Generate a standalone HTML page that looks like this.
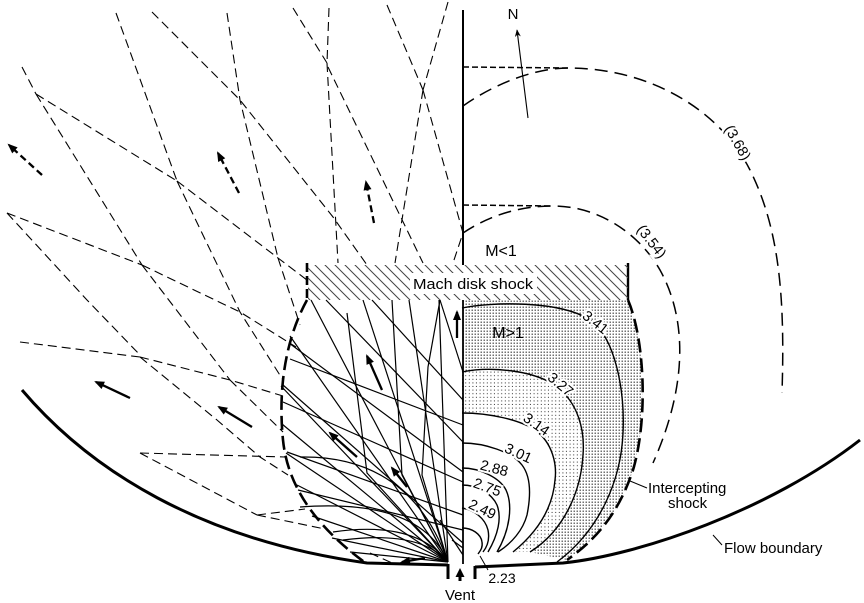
<!DOCTYPE html>
<html><head><meta charset="utf-8"><style>
html,body{margin:0;padding:0;background:#fff;}
svg{display:block;}
text{font-family:"Liberation Sans",Arial,sans-serif;fill:#000;}
</style></head><body>
<svg width="864" height="603" viewBox="0 0 864 603" xmlns="http://www.w3.org/2000/svg">
<defs>
<marker id="ah" viewBox="0 0 10 8" refX="8" refY="4" markerWidth="11" markerHeight="8" markerUnits="userSpaceOnUse" orient="auto"><path d="M0,0 L10,4 L0,8 z" fill="#000"/></marker>
<marker id="ahn" viewBox="0 0 10 8" refX="9" refY="4" markerWidth="10" markerHeight="6" markerUnits="userSpaceOnUse" orient="auto"><path d="M0,0 L10,4 L0,8 L3,4 z" fill="#000"/></marker>
<pattern id="hatch" width="10" height="10" patternUnits="userSpaceOnUse"><path d="M-2,-2 L12,12 M-2,8 L2,12 M8,-2 L12,2" stroke="#444" stroke-width="1"/></pattern>
<pattern id="dots" width="3" height="3" patternUnits="userSpaceOnUse"><rect x="0.6" y="0.6" width="1.2" height="1.2" fill="#222"/></pattern>
<pattern id="dots2" width="3.6" height="3.6" patternUnits="userSpaceOnUse"><rect x="0.8" y="0.8" width="1.0" height="1.0" fill="#333"/></pattern>
</defs>

<!-- stipple regions -->
<path d="M463,300 L628,300 C645,340 648,420 633,470 C618,515 595,540 567,560 L530,552 C565,530 581,490 583,455 C585,430 578,403 557,387 C535,370 490,366 462,372 Z" fill="url(#dots)"/>
<path d="M462,372 C490,366 535,370 557,387 C578,403 585,430 583,455 C581,490 565,530 530,552 L513,552 C540,530 553,505 555,480 C557,465 553,443 535,430 C520,420 490,413 462,413 Z" fill="url(#dots2)"/>

<!-- upper-left dashed characteristics -->
<g fill="none" stroke="#000" stroke-width="1.1" stroke-dasharray="9 5">
<path d="M22,67 L36,94"/>
<path d="M36,94 L177,181"/>
<path d="M36,94 L142,265"/>
<path d="M116,13 L177,181"/>
<path d="M152,12 L240,100 L333,217 L367,265"/>
<path d="M227,13 L240,100 L278,258"/>
<path d="M293,8 L327,63"/>
<path d="M329,8 L327,63"/>
<path d="M327,63 L338,263"/>
<path d="M328,67 L423,263"/>
<path d="M387,5 L423,90"/>
<path d="M448,2 L423,90"/>
<path d="M423,90 L395,263"/>
<path d="M423,90 L463,233 L453,263"/>
<path d="M177,181 L278,258 L307,280"/>
<path d="M278,258 L300,325"/>
<path d="M177,181 L240,312 L283,380"/>
<path d="M7,213 L142,265"/>
<path d="M142,265 L240,312 L296,347"/>
<path d="M142,265 L230,380"/>
<path d="M7,213 L87,300 L140,355"/>
<path d="M20,342 L140,357"/>
<path d="M140,357 L230,380 L283,396"/>
<path d="M140,357 L217,420 L260,457 L288,475"/>
<path d="M230,380 L283,432"/>
<path d="M140,453 L285,457"/>
<path d="M140,453 L257,515"/>
<path d="M257,515 L305,509"/>
<path d="M257,515 L325,529"/>
<path d="M370,553 L392,563"/>
</g>

<!-- dashed arrows -->
<g stroke="#000" stroke-width="2.3" stroke-dasharray="7 4" fill="none">
<line x1="42" y1="175" x2="9" y2="145" marker-end="url(#ah)"/>
<line x1="239" y1="193" x2="218" y2="153" marker-end="url(#ah)"/>
<line x1="374" y1="223" x2="366" y2="182" marker-end="url(#ah)"/>
</g>

<!-- solid characteristics inside barrel: fan from vent -->
<g stroke="#000" stroke-width="1.2" fill="none">
<path d="M448,562 L350,552"/>
<path d="M448,562 L332,538"/>
<path d="M448,562 L312,516"/>
<path d="M448,562 L297,485"/>
<path d="M448,562 L286,453"/>
<path d="M448,562 L282,424"/>
<path d="M448,562 L281,386"/>
<path d="M448,562 L290,336"/>
<path d="M448,562 L311,300"/>
<path d="M448,562 L363,300"/>
<path d="M448,562 L409,300"/>
<path d="M448,562 L439,300"/>
<path d="M463,543 L283,385"/>
<path d="M463,442 L326,300"/>
<path d="M463,472 L289,343"/>
<path d="M463,482 L283,402"/>
<path d="M463,515 L287,452"/>
<path d="M463,530 L298,490"/>
<path d="M463,400 L372,300"/>
<path d="M463,372 L440,300"/>
<path d="M463,425 L290,359"/>
<path d="M463,555 L440,520"/>
<path d="M463,548 L452,540"/>
<path d="M392,300 L402,475 L448,562"/>
<path d="M347,313 L367,473 L448,562"/>
<path d="M440,300 L428,367 L422,475 L448,562"/>
<path d="M300,507 Q420,498 448,562"/>
<path d="M333,532 Q415,520 448,562"/>
<path d="M343,540 Q420,530 448,562"/>
<path d="M300,457 Q410,455 448,562"/>
</g>

<!-- solid arrows -->
<g stroke="#000" stroke-width="2.3" fill="none">
<line x1="130" y1="398" x2="96" y2="382" marker-end="url(#ah)"/>
<line x1="252" y1="427" x2="219" y2="407" marker-end="url(#ah)"/>
<line x1="357" y1="457" x2="330" y2="433" marker-end="url(#ah)"/>
<line x1="382" y1="390" x2="367" y2="356" marker-end="url(#ah)"/>
<line x1="407" y1="487" x2="392" y2="468" marker-end="url(#ah)"/>
<line x1="425" y1="558" x2="402" y2="562" marker-end="url(#ah)"/>
<line x1="457" y1="338" x2="457" y2="312" marker-end="url(#ah)"/>
</g>

<!-- left barrel (intercepting shock) -->
<path d="M307,300 C285,340 278,390 283,440 C288,490 320,530 367,564" fill="none" stroke="#000" stroke-width="2.6" stroke-dasharray="14 6"/>
<line x1="307" y1="263" x2="307" y2="300" stroke="#000" stroke-width="2.6" stroke-dasharray="9 4"/>

<!-- right intercepting shock -->
<path d="M628,300 C645,340 648,420 633,470 C618,515 595,540 567,560" fill="none" stroke="#000" stroke-width="2.6" stroke-dasharray="14 6"/>
<line x1="628" y1="263" x2="628" y2="300" stroke="#000" stroke-width="2.4"/>

<!-- Mach disk hatch -->
<rect x="308" y="265" width="320" height="35" fill="url(#hatch)"/>
<rect x="410" y="273" width="127" height="21" fill="#fff"/>
<text x="473" y="289" font-size="15" text-anchor="middle" textLength="120" lengthAdjust="spacingAndGlyphs">Mach disk shock</text>

<!-- axis -->
<line x1="463" y1="10" x2="463" y2="265" stroke="#000" stroke-width="2"/>
<line x1="463" y1="300" x2="463" y2="564" stroke="#000" stroke-width="1.8"/>

<!-- contours right -->
<g fill="none" stroke="#000" stroke-width="1.4">
<path d="M462,308 C490,302 560,300 590,320 C615,337 625,390 623,433 C621,480 600,530 557,562"/>
<path d="M462,372 C490,366 535,370 557,387 C578,403 585,430 583,455 C581,490 565,530 530,552"/>
<path d="M462,413 C490,413 520,420 535,430 C553,443 557,465 555,480 C553,505 540,530 513,552"/>
<path d="M462,443 C485,443 512,452 522,465 C532,478 530,500 527,515 C523,530 512,543 498,552"/>
<path d="M462,468 C480,468 500,478 506,490 C513,505 510,530 497,552"/>
<path d="M462,485 C478,485 492,494 497,505 C502,518 498,535 488,552"/>
<path d="M462,508 C474,510 485,518 488,530 C490,540 487,547 483,552"/>
<path d="M462,528 C472,528 481,534 482,542 C483,548 480,551 478,554"/>
<path d="M480,556 L488,570" stroke-width="1"/>
</g>
<g font-size="14.5" text-anchor="middle" dominant-baseline="central" stroke="#fff" stroke-width="4" paint-order="stroke">
<text transform="translate(595,323) rotate(38)">3.41</text>
<text transform="translate(560,385) rotate(40)">3.27</text>
<text transform="translate(536,425) rotate(35)">3.14</text>
<text transform="translate(518,454) rotate(25)">3.01</text>
<text transform="translate(494,469) rotate(15)">2.88</text>
<text transform="translate(487,488) rotate(20)">2.75</text>
<text transform="translate(482,510) rotate(25)">2.49</text>
</g>

<!-- outer dashed arcs -->
<g fill="none" stroke="#000" stroke-width="1.5">
<path d="M463,106 C500,80 540,68 568,68 C650,68 720,110 750,170 C780,230 785,300 782,393" stroke-dasharray="13 7"/>
<path d="M463,233 C490,215 520,206 553,206 C600,206 640,235 660,270 C685,315 690,380 653,463" stroke-dasharray="13 7"/>
<path d="M463,67 L568,68" stroke-dasharray="6 3"/>
<path d="M463,205 L553,206" stroke-dasharray="6 3"/>
</g>
<g font-size="14.5" text-anchor="middle" dominant-baseline="central" stroke="#fff" stroke-width="5" paint-order="stroke">
<text transform="translate(737,143) rotate(60)">(3.68)</text>
<text transform="translate(651,242) rotate(52)">(3.54)</text>
</g>

<!-- N arrow -->
<line x1="528" y1="118" x2="517" y2="30" stroke="#000" stroke-width="1.1" marker-end="url(#ahn)"/>
<text x="513" y="19" font-size="15" text-anchor="middle">N</text>

<!-- flow boundary -->
<path d="M22,390 C90,470 200,540 367,563 L448,565" fill="none" stroke="#000" stroke-width="3"/>
<path d="M475,567 L563,563 C640,555 770,510 860,440" fill="none" stroke="#000" stroke-width="3"/>

<!-- vent -->
<line x1="448" y1="564" x2="448" y2="579" stroke="#000" stroke-width="3"/>
<line x1="475" y1="566" x2="475" y2="579" stroke="#000" stroke-width="3"/>
<path d="M460,568 L464.5,577 L455.5,577 Z" fill="#000"/>
<line x1="460" y1="575" x2="460" y2="581" stroke="#000" stroke-width="3"/>
<text x="460" y="600" font-size="15" text-anchor="middle">Vent</text>
<text x="502" y="583" font-size="14" text-anchor="middle">2.23</text>

<!-- region labels -->
<text x="501" y="256" font-size="16" text-anchor="middle">M&lt;1</text>
<text x="508" y="338" font-size="16" text-anchor="middle">M&gt;1</text>

<!-- leaders and callouts -->
<line x1="630" y1="481" x2="647" y2="488" stroke="#000" stroke-width="1"/>
<text x="648" y="493" font-size="15">Intercepting</text>
<text x="668" y="508" font-size="15">shock</text>
<line x1="713" y1="535" x2="722" y2="545" stroke="#000" stroke-width="1"/>
<text x="724" y="553" font-size="15">Flow boundary</text>
</svg>
</body></html>
